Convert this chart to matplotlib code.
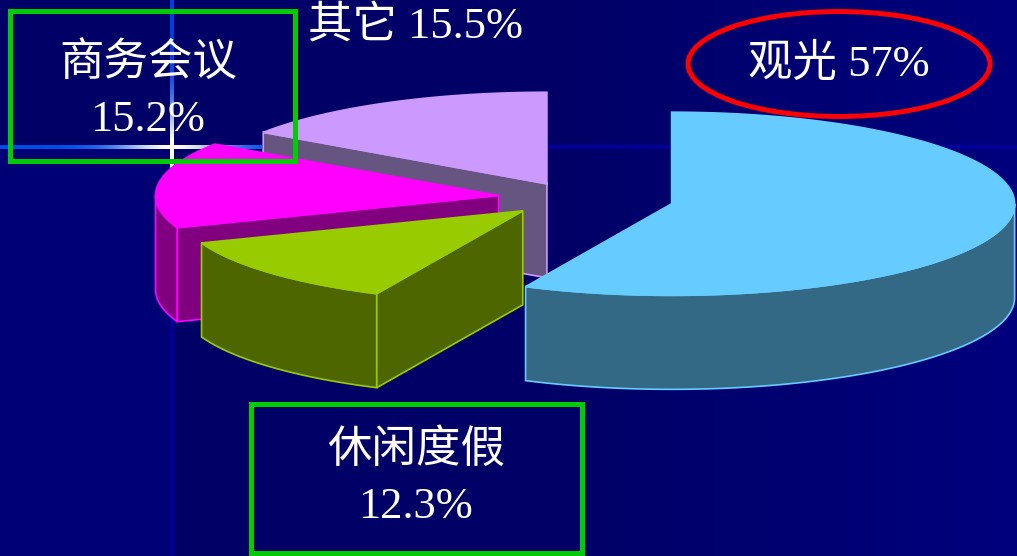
import numpy as np
import matplotlib
matplotlib.use("Agg")
import matplotlib.pyplot as plt
from matplotlib.patches import Polygon, Rectangle, Ellipse

plt.rcParams["font.family"] = ["Liberation Serif", "Noto Sans CJK SC"]

# travel purpose shares (%)
labels = ["观光", "休闲度假", "商务会议", "其它"]
shares = [57, 12.3, 15.2, 15.5]

# look
top_colors = ["#66ccff", "#99cc00", "#ff00ff", "#cc99ff"]
side_colors = ["#336985", "#4d6600", "#800080", "#665580"]
explode = [99, 71, 77, 60]

W, H = 1017, 556
CX, CY = 575, 198
RADIUS = 343
TILT = 0.267
DEPTH = 94


def proj(cx, cy, r, theta):
    t = np.radians(theta)
    return cx + r * np.sin(t), cy - r * np.cos(t) * TILT


def arc(cx, cy, a, b, n=120):
    th = np.linspace(a, b, n)
    x, y = proj(cx, cy, RADIUS, th)
    return np.column_stack([x, y])


def background():
    img = np.zeros((H, W, 3))
    xs = np.arange(W)
    blue = 0.40 + 0.09 * np.clip((xs - 550) / 467, 0, 1)
    img[:, :, 2] = blue[None, :]
    img[148:, :171, 2] = 0.46
    # template grid lines
    img[145:149, :, 2] = 0.60
    img[:, 170:174, 2] = 0.60
    glow = np.exp(-((xs - 172) / 55.0) ** 2)
    seg = (xs < 262)
    for c, base in enumerate([0.0, 0.30, 0.90]):
        img[145:149, seg, c] = np.clip(base + glow[seg] * (1.0 - base) * [1, 1, 0.8][c], 0, 1)
    ys = np.arange(H)
    vglow = np.exp(-((ys - 147) / 45.0) ** 2)
    for c, base in enumerate([0.0, 0.25, 0.85]):
        col = base + vglow * (1.0 - base) * [1, 1, 0.8][c]
        img[:148, 170:174, c] = col[:148, None]
        img[148:200, 170:174, c] = col[148:200, None]
    return img


fig = plt.figure(figsize=(W / 100, H / 100), dpi=100)
ax = fig.add_axes([0, 0, 1, 1])
ax.imshow(background(), extent=(0, W, H, 0), zorder=0, interpolation="bilinear")
ax.set_xlim(0, W)
ax.set_ylim(H, 0)
ax.axis("off")

# slice angles, clockwise from 12 o'clock
bounds = np.concatenate([[0], np.cumsum(shares) / sum(shares) * 360])
slices = []
for i in range(len(shares)):
    a, b = bounds[i], bounds[i + 1]
    mid = (a + b) / 2
    cx, cy = proj(CX, CY, explode[i], mid)
    depth_key = proj(cx, cy, RADIUS / 2, mid)[1]
    slices.append((depth_key, i, a, b, cx, cy))

for z, (_, i, a, b, cx, cy) in enumerate(sorted(slices)):
    kw = dict(edgecolor=top_colors[i], linewidth=1.2, zorder=2 + z)
    sides = []
    # outer rim, front half only
    lo, hi = max(a, 90), min(b, 270)
    if hi > lo:
        rim = arc(cx, cy, lo, hi)
        low = rim[::-1] + [0, DEPTH]
        sides.append(np.vstack([rim, low]))
    # cut faces turned toward the viewer
    for th, vis in ((a, np.sin(np.radians(a)) < -1e-6), (b, np.sin(np.radians(b)) > 1e-6)):
        if vis:
            px, py = proj(cx, cy, RADIUS, th)
            sides.append(np.array([[cx, cy], [px, py], [px, py + DEPTH], [cx, cy + DEPTH]]))
    for pts in sides:
        ax.add_patch(Polygon(pts, closed=True, facecolor=side_colors[i], **kw))
    top = np.vstack([[cx, cy], arc(cx, cy, a, b)])
    ax.add_patch(Polygon(top, closed=True, facecolor=top_colors[i], **kw))

pct = [f"{v:g}%" for v in shares]
txt = dict(color="white", fontsize=32, ha="center", va="center", zorder=20)

ax.text(148, 63, labels[2], **txt)
ax.text(148, 120, pct[2], **txt)
ax.text(415, 27, f"{labels[3]} {pct[3]}", **txt)
ax.text(839, 64, f"{labels[0]} {pct[0]}", **txt)
ax.text(416, 450, labels[1], **txt)
ax.text(416, 507, pct[1], **txt)

ax.add_patch(Rectangle((10, 11), 285, 150, fill=False, edgecolor="#00cc00", linewidth=3.6, zorder=15))
ax.add_patch(Rectangle((251, 404), 331, 149, fill=False, edgecolor="#00cc00", linewidth=3.6, zorder=15))
ax.add_patch(Ellipse((839, 64), 302, 105, fill=False, edgecolor="#ff0000", linewidth=3.6, zorder=15))

fig.savefig("out.png", dpi=100)
